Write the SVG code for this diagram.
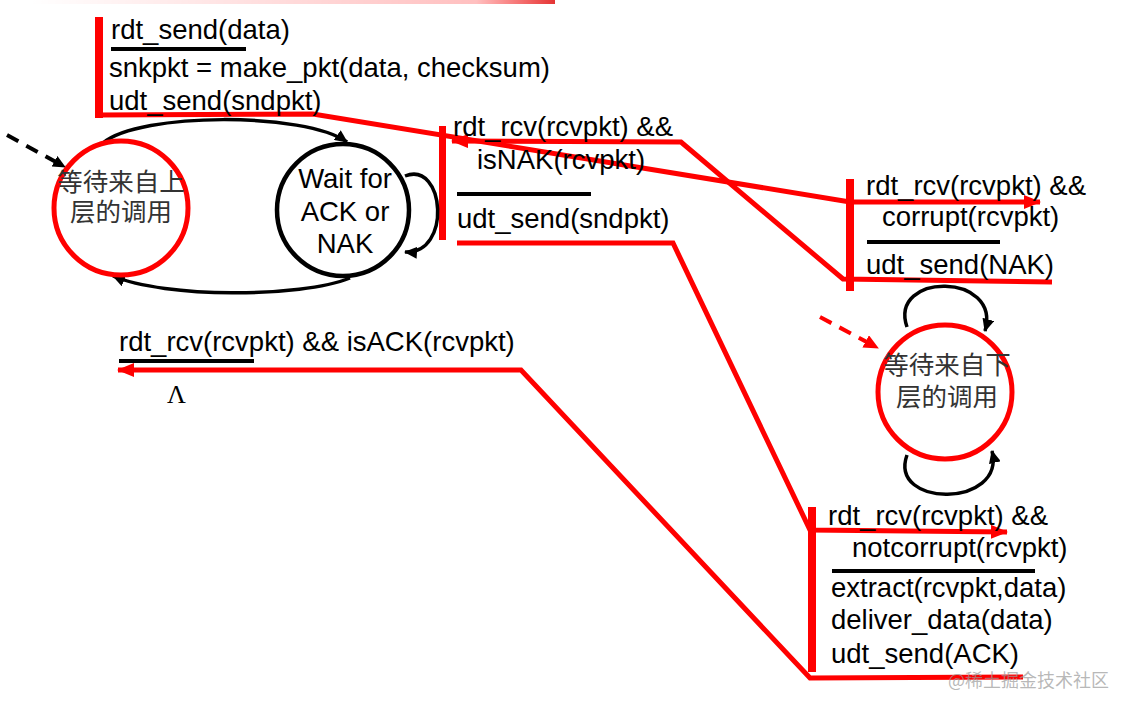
<svg xmlns="http://www.w3.org/2000/svg" width="1130" height="710" viewBox="0 0 1130 710">
<style>
.t{font-family:"Liberation Sans",Arial,sans-serif;font-size:27.5px;fill:#000}
.c{font-family:"Liberation Sans","Noto Sans CJK SC",sans-serif;font-size:25.5px;fill:#333;text-anchor:middle}
.w{font-family:"Liberation Sans",Arial,sans-serif;font-size:27.5px;fill:#000;text-anchor:middle}
.red{fill:none;stroke:#f00;stroke-width:5;stroke-linejoin:miter}
.bar{fill:#f00}
.ul{stroke:#000;stroke-width:4}
.arc{fill:none;stroke:#000;stroke-width:3.5}
</style>
<defs>
<linearGradient id="topg" x1="0" x2="1" y1="0" y2="0">
<stop offset="0" stop-color="#f00" stop-opacity="0"/>
<stop offset="0.85" stop-color="#f00" stop-opacity="0.25"/>
<stop offset="1" stop-color="#d00" stop-opacity="0.8"/>
</linearGradient>
<marker id="ra" markerUnits="userSpaceOnUse" markerWidth="18" markerHeight="14" refX="16" refY="7" orient="auto">
<path d="M0,0 L17,7 L0,14 z" fill="#f00"/>
</marker>
<marker id="ba" markerUnits="userSpaceOnUse" markerWidth="14" markerHeight="12" refX="12" refY="6" orient="auto">
<path d="M0,0 L13,6 L0,12 z" fill="#000"/>
</marker>
<marker id="rda" markerUnits="userSpaceOnUse" markerWidth="16" markerHeight="14" refX="14" refY="7" orient="auto">
<path d="M0,0 L15,7 L0,14 z" fill="#f00"/>
</marker>
</defs>
<rect width="1130" height="710" fill="#fff"/>
<rect x="30" y="0" width="525" height="4" fill="url(#topg)"/>

<g id="connectors">
<path class="red" d="M99,115 L313,114 L850,202 L1040,202" marker-end="url(#ra)"/>
<path class="red" d="M1052,282 L843,279 L681,142 L452,141" marker-end="url(#ra)"/>
<path class="red" d="M457,243 L673,243 L810,530 L1007,532" marker-end="url(#ra)"/>
<path class="red" d="M1023,677 L810,678 L521,370 L118,370" marker-end="url(#ra)"/>
<rect class="bar" x="95" y="17" width="8" height="101"/>
<rect class="bar" x="439" y="126" width="7" height="114"/>
<rect class="bar" x="846" y="179" width="8" height="112"/>
<rect class="bar" x="808" y="507" width="8" height="165"/>
<path class="arc" d="M103,143 C140,112 305,112 347,142" marker-end="url(#ba)"/>
<path class="arc" d="M350,278 C300,298 165,298 113,276" marker-end="url(#ba)"/>
<path class="arc" d="M405,176 C445,160 452,255 405,252" marker-end="url(#ba)"/>
<path class="arc" d="M907,327 C888,272 1002,272 985,331" marker-end="url(#ba)"/>
<path class="arc" d="M907,455 C888,508 1006,508 992,451" marker-end="url(#ba)"/>
<path d="M7,135 L65,167" fill="none" stroke="#000" stroke-width="4" stroke-dasharray="13,9" marker-end="url(#ba)"/>
<path d="M820,317 L878,348" fill="none" stroke="#f00" stroke-width="4" stroke-dasharray="13,9" marker-end="url(#rda)"/>
</g>

<g id="sender-wait-call">
<circle cx="121" cy="208" r="67" fill="none" stroke="#f00" stroke-width="5"/>
<text class="c" x="121" y="191">等待来自上</text>
<text class="c" x="121" y="221">层的调用</text>
</g>

<g id="sender-wait-ack">
<circle cx="343" cy="210" r="66" fill="none" stroke="#000" stroke-width="4.5"/>
<text class="w" x="345" y="188">Wait for</text>
<text class="w" x="345" y="221">ACK or</text>
<text class="w" x="345" y="253">NAK</text>
</g>

<g id="receiver-wait-call">
<circle cx="945" cy="392" r="67" fill="none" stroke="#f00" stroke-width="5"/>
<text class="c" x="947" y="374">等待来自下</text>
<text class="c" x="947" y="406">层的调用</text>
</g>

<g id="label-send">
<text class="t" x="111" y="39">rdt_send(data)</text>
<line class="ul" x1="111" y1="49" x2="246" y2="49"/>
<text class="t" x="109" y="77">snkpkt = make_pkt(data, checksum)</text>
<text class="t" x="109" y="110">udt_send(sndpkt)</text>
</g>

<g id="label-nak">
<text class="t" x="453" y="136">rdt_rcv(rcvpkt) &amp;&amp;</text>
<text class="t" x="477" y="169">isNAK(rcvpkt)</text>
<line class="ul" x1="457" y1="194" x2="591" y2="194"/>
<text class="t" x="457" y="228">udt_send(sndpkt)</text>
</g>

<g id="label-corrupt">
<text class="t" x="866" y="195">rdt_rcv(rcvpkt) &amp;&amp;</text>
<text class="t" x="882" y="226">corrupt(rcvpkt)</text>
<line class="ul" x1="867" y1="242" x2="1000" y2="242"/>
<text class="t" x="866" y="274">udt_send(NAK)</text>
</g>

<g id="label-ack">
<text class="t" x="119" y="351">rdt_rcv(rcvpkt) &amp;&amp; isACK(rcvpkt)</text>
<line class="ul" x1="119" y1="361" x2="254" y2="361"/>
<text x="167" y="403" font-family="'Liberation Serif','Times New Roman',serif" font-size="26" fill="#000">Λ</text>
</g>

<g id="label-notcorrupt">
<text class="t" x="828" y="525">rdt_rcv(rcvpkt) &amp;&amp;</text>
<text class="t" x="852" y="557">notcorrupt(rcvpkt)</text>
<line class="ul" x1="832" y1="571" x2="1035" y2="571"/>
<text class="t" x="831" y="597">extract(rcvpkt,data)</text>
<text class="t" x="831" y="629">deliver_data(data)</text>
<text class="t" x="831" y="663">udt_send(ACK)</text>
</g>

<text x="948" y="687" font-family="'Noto Sans CJK SC','Noto Sans',sans-serif" font-size="18" fill="#999" fill-opacity="0.7">@稀土掘金技术社区</text>
</svg>
